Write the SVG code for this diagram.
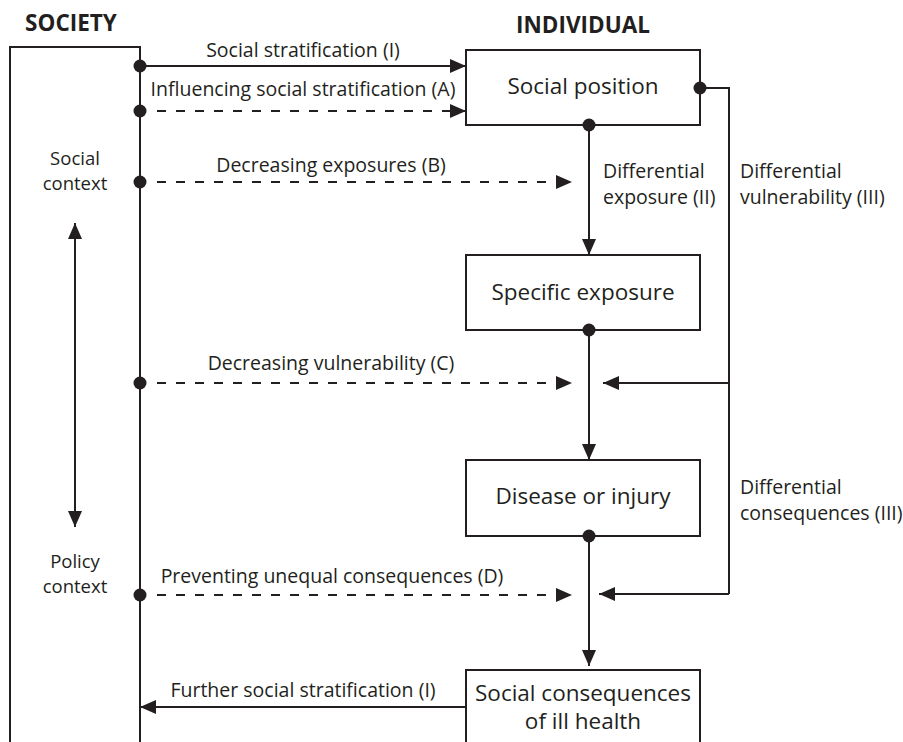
<svg xmlns="http://www.w3.org/2000/svg" width="903" height="742" viewBox="0 0 903 742">
<style>
  .t { font-family: "Open Sans", "Noto Sans", sans-serif; fill: #231f20; }
  .lbl { font-size: 19.5px; }
  .ctx { font-size: 18.5px; }
  .node { font-size: 22.5px; }
  .title { font-size: 22.5px; font-weight: bold; }
  .box { fill: #fff; stroke: #231f20; stroke-width: 2; }
  .ln { fill: none; stroke: #231f20; stroke-width: 2; }
  .dash { stroke-dasharray: 9 10; }
  .dot { fill: #231f20; }
</style>
<defs>
  <marker id="ah" viewBox="0 0 16 14" refX="16" refY="7" markerWidth="16" markerHeight="14" markerUnits="userSpaceOnUse" orient="auto-start-reverse">
    <path d="M0,0 L16,7 L0,14 Z" fill="#231f20"/>
  </marker>
</defs>
<rect width="903" height="742" fill="#fff"/>

<g id="society">
  <path class="ln" d="M10,760 V47 H140 V760"/>
  <text class="t title" x="71" y="31" text-anchor="middle">SOCIETY</text>
  <text class="t ctx" x="75" y="165" text-anchor="middle">Social</text>
  <text class="t ctx" x="75" y="190" text-anchor="middle">context</text>
  <text class="t ctx" x="75" y="568" text-anchor="middle">Policy</text>
  <text class="t ctx" x="75" y="593" text-anchor="middle">context</text>
</g>

<text id="individual-title" class="t title" x="583" y="33" text-anchor="middle">INDIVIDUAL</text>

<g id="social-position">
  <rect class="box" x="466" y="50" width="234" height="75"/>
  <text class="t node" x="583" y="94" text-anchor="middle">Social position</text>
</g>
<g id="specific-exposure">
  <rect class="box" x="466" y="255" width="234" height="75"/>
  <text class="t node" x="583" y="300" text-anchor="middle">Specific exposure</text>
</g>
<g id="disease">
  <rect class="box" x="466" y="460" width="234" height="76"/>
  <text class="t node" x="583" y="504" text-anchor="middle">Disease or injury</text>
</g>
<g id="social-consequences">
  <rect class="box" x="466" y="670" width="234" height="100"/>
  <text class="t node" x="583" y="701" text-anchor="middle">Social consequences</text>
  <text class="t node" x="583" y="729" text-anchor="middle">of ill health</text>
</g>

<g id="connectors">
  <line class="ln" x1="140" y1="66" x2="466" y2="66" marker-end="url(#ah)"/>
  <line class="ln dash" x1="157" y1="111" x2="466" y2="111" marker-end="url(#ah)"/>
  <line class="ln dash" x1="157" y1="182" x2="572" y2="182" marker-end="url(#ah)"/>
  <line class="ln dash" x1="157" y1="383" x2="572" y2="383" marker-end="url(#ah)"/>
  <line class="ln dash" x1="157" y1="595" x2="572" y2="595" marker-end="url(#ah)"/>
  <circle class="dot" cx="140" cy="66" r="6.5"/>
  <circle class="dot" cx="140" cy="111" r="6.5"/>
  <circle class="dot" cx="140" cy="182" r="6.5"/>
  <circle class="dot" cx="140" cy="383" r="6.5"/>
  <circle class="dot" cx="140" cy="595" r="6.5"/>

  <line class="ln" x1="589" y1="125" x2="589" y2="255" marker-end="url(#ah)"/>
  <line class="ln" x1="589" y1="330" x2="589" y2="460" marker-end="url(#ah)"/>
  <line class="ln" x1="589" y1="536" x2="589" y2="666" marker-end="url(#ah)"/>
  <circle class="dot" cx="589" cy="125" r="6.5"/>
  <circle class="dot" cx="589" cy="330" r="6.5"/>
  <circle class="dot" cx="589" cy="536" r="6.5"/>

  <path class="ln" d="M700,88 H729 V594"/>
  <line class="ln" x1="729" y1="383" x2="603" y2="383" marker-end="url(#ah)"/>
  <line class="ln" x1="729" y1="594" x2="599" y2="594" marker-end="url(#ah)"/>
  <circle class="dot" cx="700" cy="88" r="6.5"/>

  <line class="ln" x1="466" y1="707" x2="140" y2="707" marker-end="url(#ah)"/>

  <line class="ln" x1="75" y1="223" x2="75" y2="527" marker-start="url(#ah)" marker-end="url(#ah)"/>

  <text class="t lbl" x="303" y="57" text-anchor="middle">Social stratification (I)</text>
  <text class="t lbl" x="303" y="96" text-anchor="middle">Influencing social stratification (A)</text>
  <text class="t lbl" x="331" y="172" text-anchor="middle">Decreasing exposures (B)</text>
  <text class="t lbl" x="331" y="370" text-anchor="middle">Decreasing vulnerability (C)</text>
  <text class="t lbl" x="332" y="583" text-anchor="middle">Preventing unequal consequences (D)</text>
  <text class="t lbl" x="303" y="697" text-anchor="middle">Further social stratification (I)</text>
  <text class="t lbl" x="603" y="178">Differential</text>
  <text class="t lbl" x="603" y="204">exposure (II)</text>
  <text class="t lbl" x="740" y="178">Differential</text>
  <text class="t lbl" x="740" y="204">vulnerability (III)</text>
  <text class="t lbl" x="740" y="494">Differential</text>
  <text class="t lbl" x="740" y="520">consequences (III)</text>
</g>
</svg>
